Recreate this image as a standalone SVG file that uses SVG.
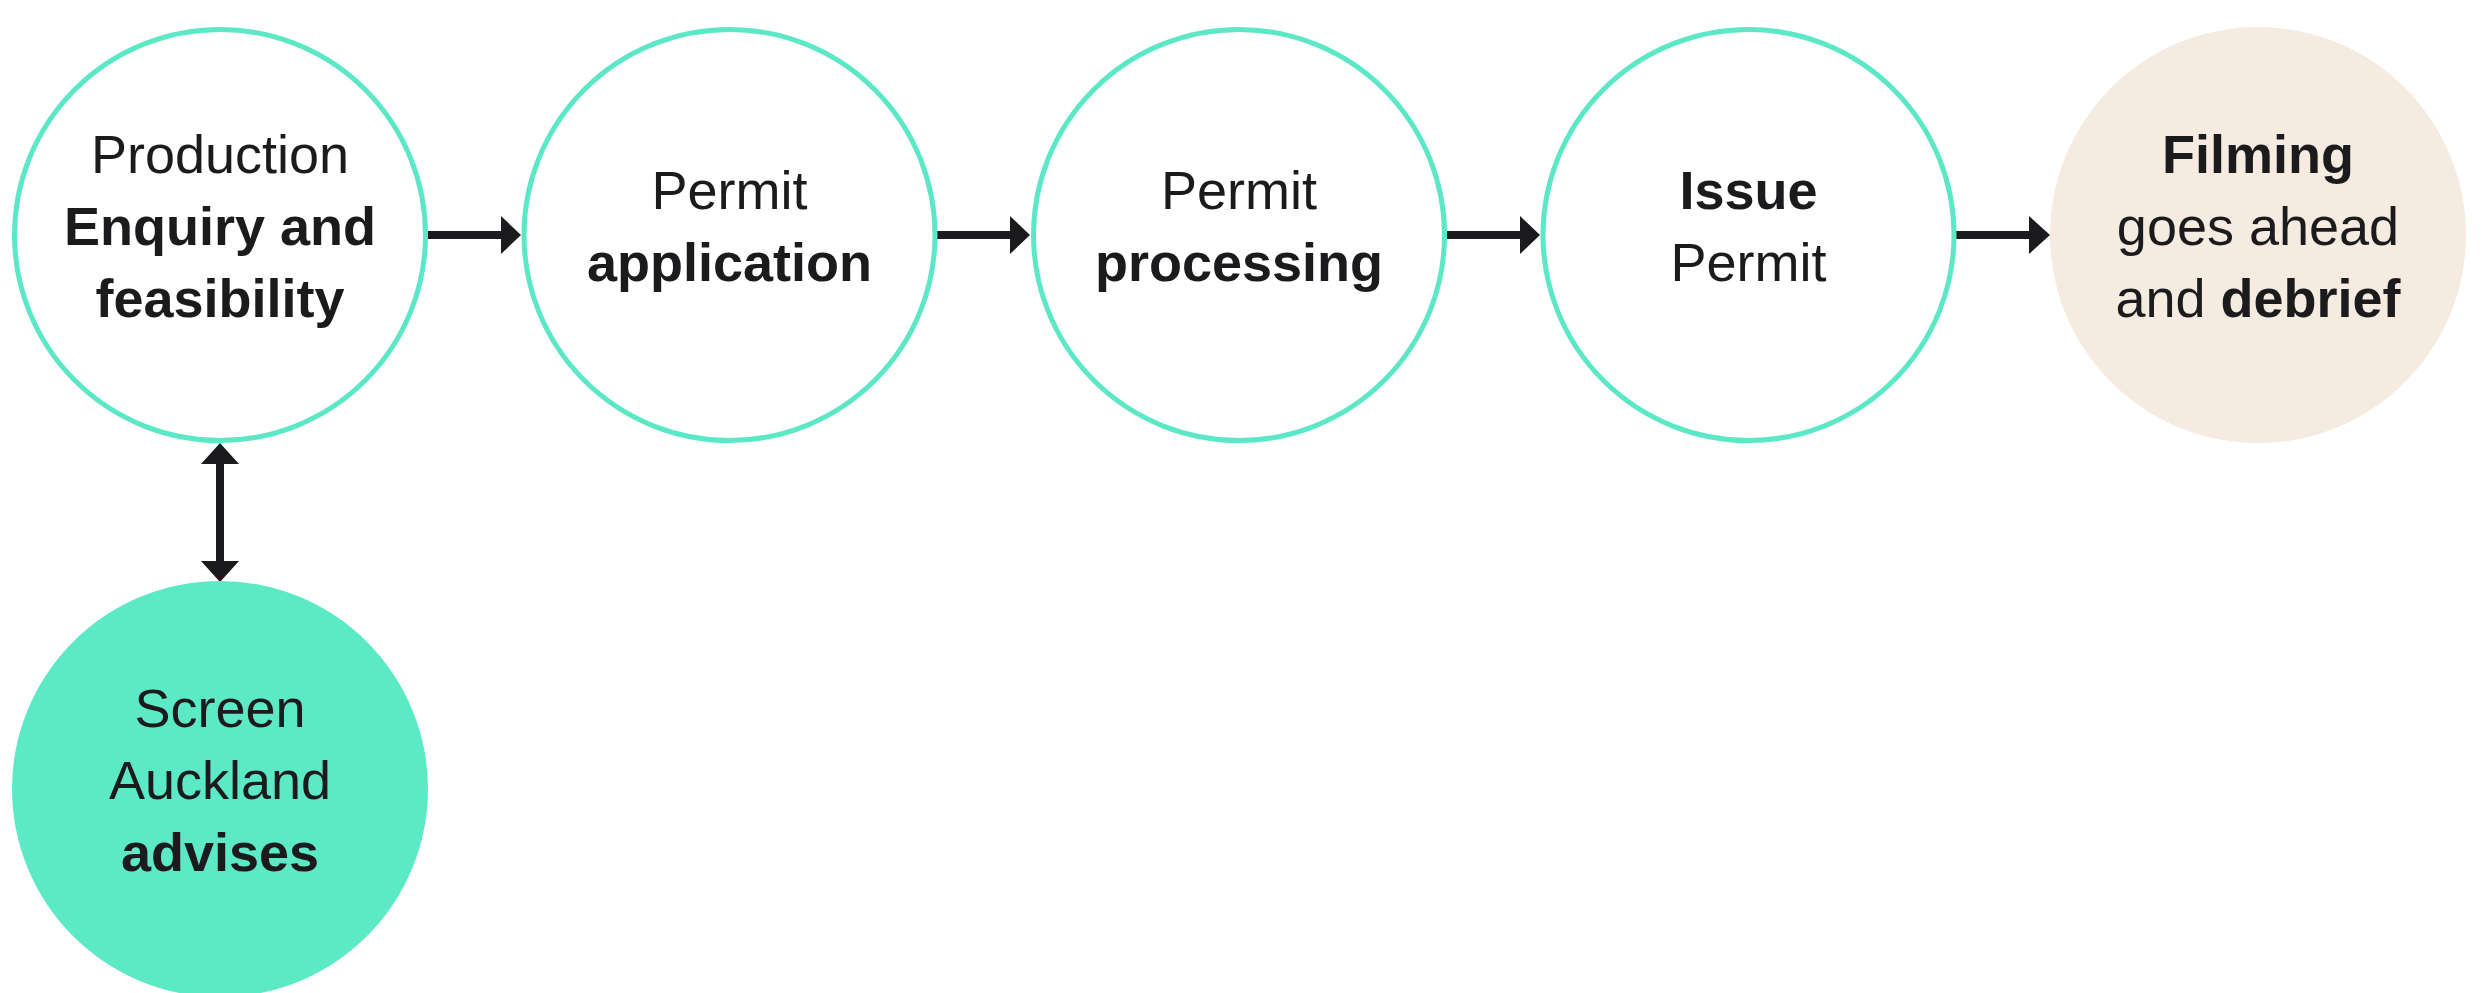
<svg xmlns="http://www.w3.org/2000/svg" width="2483" height="993" viewBox="0 0 2483 993">
<defs>
<style>
.ring{fill:#ffffff;stroke:#5ce8c6;stroke-width:5}
.t{font-family:"Liberation Sans",Arial,sans-serif;font-size:54px;fill:#1b1b1d;text-anchor:middle}
.b{font-weight:bold}
.c{stroke:#1b1b1d;stroke-width:8;fill:none}
.h{fill:#1b1b1d}
</style>
</defs>
<rect width="2483" height="993" fill="#ffffff"/>
<g id="connectors">
<line class="c" x1="428" y1="235" x2="502" y2="235"/><polygon class="h" points="501,216 521,235 501,254"/>
<line class="c" x1="937" y1="235" x2="1011" y2="235"/><polygon class="h" points="1010,216 1030,235 1010,254"/>
<line class="c" x1="1447" y1="235" x2="1521" y2="235"/><polygon class="h" points="1520,216 1540,235 1520,254"/>
<line class="c" x1="1956" y1="235" x2="2030" y2="235"/><polygon class="h" points="2029,216 2050,235 2029,254"/>
<line class="c" x1="220" y1="462" x2="220" y2="563"/>
<polygon class="h" points="201,464 220,443 239,464"/>
<polygon class="h" points="201,561 220,582 239,561"/>
</g>
<g id="node-enquiry">
<circle class="ring" cx="220" cy="235" r="205.5"/>
<text class="t" x="220" y="173">Production</text>
<text class="t b" x="220" y="245">Enquiry and</text>
<text class="t b" x="220" y="317">feasibility</text>
</g>
<g id="node-application">
<circle class="ring" cx="729.5" cy="235" r="205.5"/>
<text class="t" x="729.5" y="209">Permit</text>
<text class="t b" x="729.5" y="281">application</text>
</g>
<g id="node-processing">
<circle class="ring" cx="1239" cy="235" r="205.5"/>
<text class="t" x="1239" y="209">Permit</text>
<text class="t b" x="1239" y="281">processing</text>
</g>
<g id="node-issue">
<circle class="ring" cx="1748.5" cy="235" r="205.5"/>
<text class="t b" x="1748.5" y="209">Issue</text>
<text class="t" x="1748.5" y="281">Permit</text>
</g>
<g id="node-filming">
<circle cx="2258" cy="235" r="208" fill="#f5ebe0"/>
<text class="t b" x="2258" y="173">Filming</text>
<text class="t" x="2258" y="245">goes ahead</text>
<text class="t" x="2258" y="317">and <tspan class="b">debrief</tspan></text>
</g>
<g id="node-screen-auckland">
<circle cx="220" cy="789" r="208" fill="#5ce9c6"/>
<text class="t" x="220" y="727" fill="#000">Screen</text>
<text class="t" x="220" y="799">Auckland</text>
<text class="t b" x="220" y="871">advises</text>
</g>
</svg>
